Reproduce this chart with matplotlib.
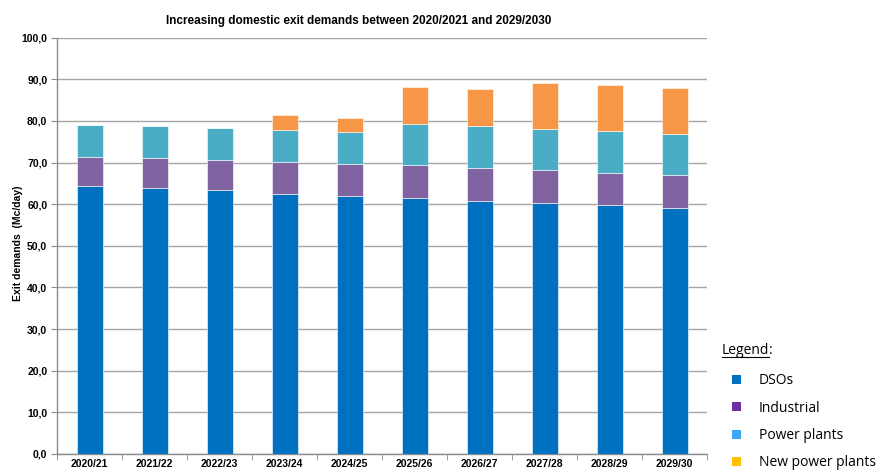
import matplotlib.pyplot as plt
import numpy as np
from matplotlib.patches import Patch
from matplotlib.lines import Line2D
from matplotlib.ticker import FuncFormatter, MultipleLocator

# Data (cumulative tops, Mc/day)
years = ['2020/21', '2021/22', '2022/23', '2023/24', '2024/25',
         '2025/26', '2026/27', '2027/28', '2028/29', '2029/30']
dsos = [64.4, 63.9, 63.3, 62.4, 62.0, 61.4, 60.8, 60.3, 59.7, 59.2]
industrial = [6.9, 7.2, 7.3, 7.7, 7.7, 7.9, 8.0, 7.9, 7.9, 7.9]
power_plants = [7.65, 7.7, 7.7, 7.8, 7.6, 9.9, 9.9, 9.9, 10.0, 9.8]
new_power_plants = [0.0, 0.0, 0.0, 3.5, 3.5, 9.0, 8.9, 11.1, 11.0, 11.1]

bar_colors = ['#0070C0', '#8064A2', '#4BACC6', '#F79646']
legend_colors = ['#0070C0', '#7030A0', '#3AA8F4', '#FFC000']
legend_labels = ['DSOs', 'Industrial', 'Power plants', 'New power plants']

fig = plt.figure(figsize=(8.8, 4.72), dpi=100)
ax = fig.add_axes([57 / 880, 18.1 / 472, 650 / 880, 416.2 / 472])

x = np.arange(len(years))
bottom = np.zeros(len(years))
for vals, col in zip([dsos, industrial, power_plants, new_power_plants], bar_colors):
    ax.bar(x, vals, width=0.4, bottom=bottom, color=col, zorder=3,
           edgecolor='white', linewidth=0.4)
    bottom += np.array(vals)

ax.set_xlim(-0.5, len(years) - 0.5)
ax.set_ylim(0, 100)
ax.yaxis.set_major_locator(MultipleLocator(10))
ax.yaxis.set_major_formatter(FuncFormatter(lambda v, p: f'{v:.1f}'.replace('.', ',')))
ax.grid(axis='y', color='#a6a6a6', linewidth=1.0, zorder=0)

ax.set_xticks(x)
ax.set_xticklabels(years)
ax.set_xticks(np.arange(-0.5, len(years)), minor=True)
ax.tick_params(axis='x', which='major', length=0, pad=4)
ax.tick_params(axis='x', which='minor', length=4, color='#8c8c8c', direction='out')
ax.tick_params(axis='y', length=4, color='#8c8c8c', pad=3)
for lab in ax.get_xticklabels() + ax.get_yticklabels():
    lab.set_fontsize(7.5)
    lab.set_fontweight('bold')
    lab.set_family('Liberation Sans')

for s in ['top', 'right']:
    ax.spines[s].set_visible(False)
for s in ['left', 'bottom']:
    ax.spines[s].set_color('#8c8c8c')
    ax.spines[s].set_linewidth(1.0)

fig.text(18 / 880, 1 - 243 / 472, 'Exit demands  (Mc/day)', rotation=90,
         ha='center', va='center', fontsize=7.5, fontweight='bold',
         family='Liberation Sans')
fig.text(359 / 880, 1 - 21 / 472,
         'Increasing domestic exit demands between 2020/2021 and 2029/2030',
         ha='center', va='center', fontsize=8.5, fontweight='bold',
         family='Liberation Sans')

# Legend block on the right
t = fig.text(722 / 880, 1 - 351 / 472, 'Legend', ha='left', va='center',
             fontsize=10, family='Open Sans')
fig.canvas.draw()
bb = t.get_window_extent().transformed(fig.transFigure.inverted())
fig.text(bb.x1, 1 - 351 / 472, ':', ha='left', va='center', fontsize=10,
         family='Open Sans')
fig.add_artist(Line2D([bb.x0, bb.x1], [bb.y0 + 0.004, bb.y0 + 0.004],
                      color='black', linewidth=0.8, transform=fig.transFigure))

handles = [Patch(facecolor=c, edgecolor='none') for c in legend_colors]
fig.legend(handles, legend_labels, loc='upper left',
           bbox_to_anchor=(732 / 880, 1 - 373 / 472), frameon=False,
           prop={'family': 'Open Sans', 'size': 10},
           handlelength=0.62, handleheight=0.62, handletextpad=1.3,
           labelspacing=0.9, borderaxespad=0, borderpad=0)

fig.savefig('out.png', dpi=100)
